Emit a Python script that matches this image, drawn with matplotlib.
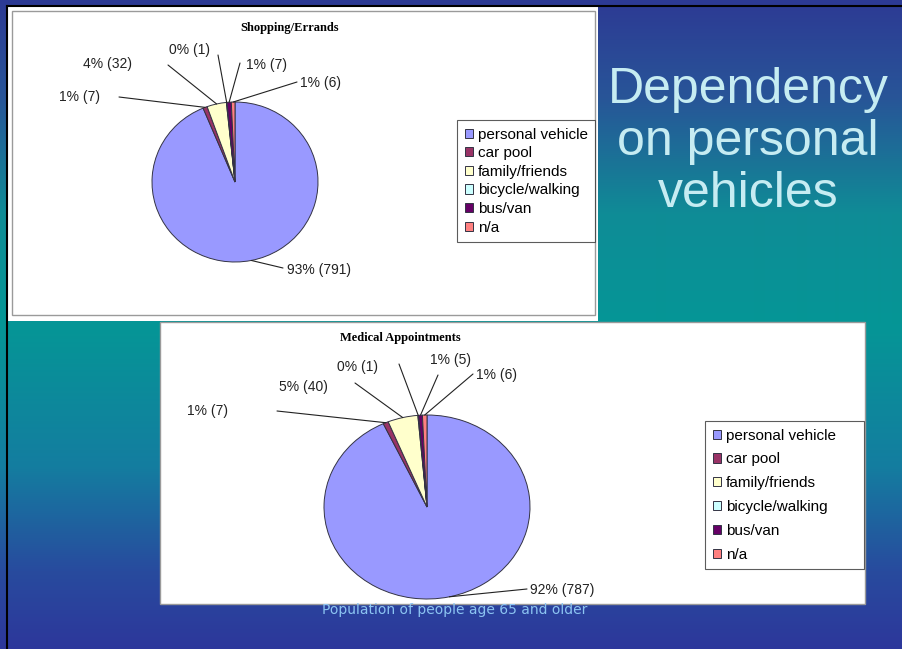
import numpy as np
import matplotlib
matplotlib.use("Agg")
import matplotlib.pyplot as plt
from matplotlib.patches import Rectangle

# data
modes = ["personal vehicle", "car pool", "family/friends", "bicycle/walking", "bus/van", "n/a"]
colors = ["#9999FF", "#993366", "#FFFFCC", "#CCFFFF", "#660066", "#FF8080"]

shop_counts = [791, 7, 32, 1, 7, 6]
shop_pct = [93, 1, 4, 0, 1, 1]
med_counts = [787, 7, 40, 1, 5, 6]
med_pct = [92, 1, 5, 0, 1, 1]

W, H = 903, 649
fig = plt.figure(figsize=(W / 100, H / 100), dpi=100)

# background axes, coordinates in pixels (y down)
bg = fig.add_axes([0, 0, 1, 1], zorder=0)
bg.set_xlim(0, W)
bg.set_ylim(H, 0)
bg.axis("off")

stops = [(0.0, (45, 58, 148)), (0.15, (40, 85, 152)), (0.33, (15, 140, 150)),
         (0.5, (5, 150, 150)), (0.72, (20, 125, 160)), (0.88, (40, 75, 158)),
         (1.0, (45, 55, 155))]
ys = np.linspace(0, 1, H)
grad = np.zeros((H, 1, 3))
for c in range(3):
    grad[:, 0, c] = np.interp(ys, [s[0] for s in stops], [s[1][c] for s in stops]) / 255
bg.imshow(grad, extent=[0, W, H, 0], aspect="auto", interpolation="bilinear")

# slide frame lines (left + top)
bg.plot([7, 7], [6, H], color="black", lw=1.5)
bg.plot([7, W], [6, 6], color="black", lw=1.5)

# white chart boxes
bg.add_patch(Rectangle((8, 7), 590, 314, facecolor="white", edgecolor="none"))
bg.add_patch(Rectangle((12, 11), 583, 304, facecolor="none", edgecolor="#9a9a9a", lw=1))
bg.add_patch(Rectangle((160, 322), 705, 282, facecolor="white", edgecolor="#9a9a9a", lw=1))

# slide title
title_lines = ["Dependency", "on personal", "vehicles"]
for i, t in enumerate(title_lines):
    bg.text(748, 90 + i * 52, t, ha="center", va="center", fontsize=36,
            color="#c6ecf2", family="Liberation Sans")

bg.text(455, 610, "Population of people age 65 and older", ha="center", va="center",
        fontsize=10, color="#8cc4f2", family="DejaVu Sans")


def draw_pie(center, rx, ry, counts, pct, title, title_xy, label_pos, leader_end,
             leg_box, leg_spacing, leg_pad):
    cx, cy = center
    ax = fig.add_axes([(cx - rx) / W, 1 - (cy + ry) / H, 2 * rx / W, 2 * ry / H], zorder=2)
    wedges, _ = ax.pie(counts, colors=colors, startangle=90, counterclock=False,
                       wedgeprops=dict(edgecolor="#333344", linewidth=0.7))
    ax.set_aspect("auto")
    ax.set_xlim(-1, 1)
    ax.set_ylim(-1, 1)
    ax.axis("off")

    bg.text(title_xy[0], title_xy[1], title, ha="center", va="center", fontsize=9,
            fontweight="bold", family="Liberation Serif")

    for w, n, p, (lx, ly, ha), (ex, ey) in zip(wedges, counts, pct, label_pos, leader_end):
        th = np.deg2rad((w.theta1 + w.theta2) / 2)
        ax.annotate("", xy=(np.cos(th), np.sin(th)), xycoords="data",
                    xytext=(ex, H - ey), textcoords="figure pixels",
                    arrowprops=dict(arrowstyle="-", color="#222222", lw=0.8,
                                    shrinkA=0, shrinkB=0),
                    annotation_clip=False)
        bg.text(lx, ly, f"{p}% ({n})", ha=ha, va="center", fontsize=10,
                family="Liberation Sans", color="#222222")

    x0, y0, x1 = leg_box
    leg = ax.legend(wedges, modes, loc="upper left", mode="expand",
                    bbox_to_anchor=(x0 / W, 1 - y0 / H, (x1 - x0) / W, 0),
                    bbox_transform=fig.transFigure, frameon=True, fancybox=False,
                    edgecolor="#333333", handlelength=0.55, handleheight=0.55,
                    handletextpad=0.3, labelspacing=leg_spacing, borderpad=leg_pad,
                    borderaxespad=0, prop=dict(family="Liberation Sans", size=11))
    leg.get_frame().set_linewidth(0.8)


draw_pie((235, 182), 83, 80, shop_counts, shop_pct, "Shopping/Errands", (290, 28),
         [(287, 270, "left"), (100, 97, "right"), (132, 64, "right"),
          (210, 50, "right"), (246, 65, "left"), (300, 83, "left")],
         [(283, 268), (119, 97), (168, 65), (218, 55), (240, 63), (297, 82)],
         (457, 120, 595), 0.3, 0.5)

draw_pie((427, 507), 103, 92, med_counts, med_pct, "Medical Appointments", (400, 338),
         [(530, 590, "left"), (228, 411, "right"), (328, 387, "right"),
          (378, 367, "right"), (430, 360, "left"), (476, 375, "left")],
         [(527, 589), (277, 411), (355, 383), (399, 364), (438, 375), (473, 374)],
         (705, 421, 864), 0.64, 0.5)

fig.savefig("out.png", dpi=100)
